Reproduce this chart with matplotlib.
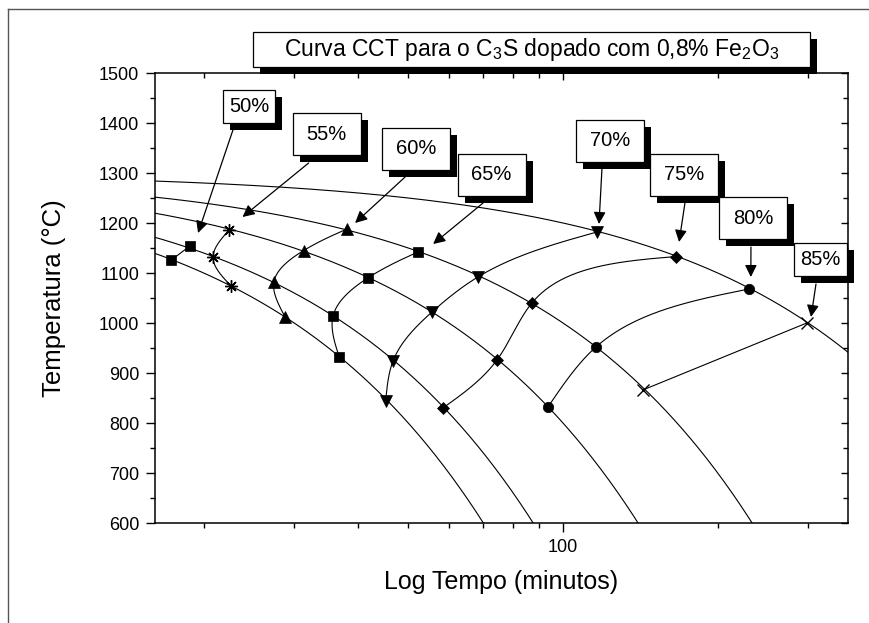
import numpy as np
import matplotlib
matplotlib.use('Agg')
import matplotlib.pyplot as plt
from matplotlib.patches import Rectangle
from matplotlib.lines import Line2D
from matplotlib.transforms import IdentityTransform
from matplotlib.ticker import FixedLocator, MultipleLocator, NullFormatter, FuncFormatter, LogLocator

plt.rcParams['font.family'] = ['Liberation Sans', 'DejaVu Sans']
plt.rcParams['mathtext.fontset'] = 'custom'
plt.rcParams['mathtext.rm'] = 'Liberation Sans'
plt.rcParams['mathtext.it'] = 'Liberation Sans:italic'

# ---------------- data ----------------
start_temp = 1300                     # °C at t = 0
cooling_rates = [1, 3, 5, 8, 10]      # °C/min

labels = ['50%', '55%', '60%', '65%', '70%', '75%', '80%', '85%']

t50 = [17.3, 18.8];                         T50 = [1126, 1154]
t55 = [22.4, 20.85, 22.6];                  T55 = [1186, 1132, 1074]
t60 = [38.0, 31.3, 27.4, 28.8];             T60 = [1188, 1145, 1083, 1012]
t65 = [52.2, 41.7, 35.7, 36.7];             T65 = [1142, 1090, 1014, 932]
t70 = [116.4, 68.3, 55.6, 46.7, 45.2];      T70 = [1182, 1092, 1022, 924, 844]
t75 = [165.9, 87.0, 74.4, 58.4];            T75 = [1133, 1040, 926, 830]
t80 = [230.0, 115.9, 93.5];                 T80 = [1068, 952, 832]
t85 = [298.0, 143.0];                       T85 = [1000, 866]

times = [t50, t55, t60, t65, t70, t75, t80, t85]
temps = [T50, T55, T60, T65, T70, T75, T80, T85]

# label boxes (centre), arrow tails and arrow tips, in data units
label_t = [24.5, 34.7, 51.8, 72.6, 123.7, 172.0, 234.2, 316.9]
label_T = [1434, 1378, 1348, 1297, 1365, 1297, 1210, 1127]
tail_t = [22.8, 32.0, 49.3, 69.9, 119.1, 172.7, 232.1, 310.6]
tail_T = [1386, 1320, 1292, 1240, 1310, 1240, 1152, 1078]
tip_t = [19.5, 23.8, 39.4, 55.9, 117.5, 168.2, 232.0, 303.8]
tip_T = [1180, 1212, 1200, 1158, 1198, 1162, 1092, 1012]

title = r'Curva CCT para o C$_3$S dopado com 0,8% Fe$_2$O$_3$'

# ---------------- styles ----------------
markers = ['s', (8, 2, 0), '^', 's', 'v', 'D', 'o', 'x']
msizes = [7, 9, 8, 7, 8, 6.5, 7.5, 9]
box_sizes = [(52, 33), (68, 42), (68, 42), (68, 42), (68, 42), (68, 42), (68, 42), (53, 33)]

W, H = 870, 623
fig = plt.figure(figsize=(W / 100, H / 100), dpi=100)
L, R, TOP, BOT = 155, 848, 73, 523
pos = [L / W, 1 - BOT / H, (R - L) / W, (BOT - TOP) / H]
ax = fig.add_axes(pos)

XMIN, XMAX = 16.08, 358.5
YMIN, YMAX = 600, 1500


def natural_spline_1d(s, y, snew):
    n = len(s)
    h = np.diff(s)
    A = np.zeros((n, n))
    b = np.zeros(n)
    A[0, 0] = 1.0
    A[-1, -1] = 1.0
    for i in range(1, n - 1):
        A[i, i - 1] = h[i - 1]
        A[i, i] = 2 * (h[i - 1] + h[i])
        A[i, i + 1] = h[i]
        b[i] = 6 * ((y[i + 1] - y[i]) / h[i] - (y[i] - y[i - 1]) / h[i - 1])
    M = np.linalg.solve(A, b)
    out = np.empty_like(snew)
    idx = np.clip(np.searchsorted(s, snew) - 1, 0, n - 2)
    for k, (sv, i) in enumerate(zip(snew, idx)):
        hi = h[i]
        a = (s[i + 1] - sv) / hi
        c = (sv - s[i]) / hi
        out[k] = (a * y[i] + c * y[i + 1]
                  + ((a ** 3 - a) * M[i] + (c ** 3 - c) * M[i + 1]) * hi ** 2 / 6)
    return out


def smooth_curve(ts, Ts, n=300):
    X = np.log10(ts) * 514.0
    Y = np.asarray(Ts, float) * 0.5
    if len(X) == 2:
        s = np.linspace(0, 1, n)
        return 10 ** ((X[0] + (X[1] - X[0]) * s) / 514.0), (Y[0] + (Y[1] - Y[0]) * s) / 0.5
    d = np.hypot(np.diff(X), np.diff(Y))
    s = np.concatenate([[0], np.cumsum(d)])
    snew = np.linspace(0, s[-1], n)
    xs = natural_spline_1d(s, X, snew)
    ys = natural_spline_1d(s, Y, snew)
    return 10 ** (xs / 514.0), ys / 0.5


# cooling curves
for r in cooling_rates:
    tt = np.geomspace(XMIN * 0.98, XMAX * 1.02, 600)
    TT = start_temp - r * tt
    ax.plot(tt, TT, color='black', lw=0.8, zorder=2)

# transformation curves with markers
for i in range(len(labels)):
    cx, cy = smooth_curve(times[i], temps[i])
    ax.plot(cx, cy, color='black', lw=0.8, zorder=2)
    if labels[i] in ('55%', '85%'):
        ax.plot(times[i], temps[i], linestyle='none', marker=markers[i], ms=msizes[i],
                mec='black', mfc='none', mew=1.0, zorder=3)
    else:
        ax.plot(times[i], temps[i], linestyle='none', marker=markers[i], ms=msizes[i],
                mec='black', mfc='black', mew=0.5, zorder=3)

ax.set_xscale('log')
ax.set_xlim(XMIN, XMAX)
ax.set_ylim(YMIN, YMAX)
ax.xaxis.set_major_locator(FixedLocator([100]))
ax.xaxis.set_major_formatter(FuncFormatter(lambda v, p: '%d' % v))
ax.xaxis.set_minor_locator(LogLocator(base=10, subs=np.arange(2, 10), numticks=20))
ax.xaxis.set_minor_formatter(NullFormatter())
ax.yaxis.set_major_locator(MultipleLocator(100))
ax.yaxis.set_minor_locator(MultipleLocator(50))
ax.tick_params(which='both', direction='out', top=False, right=False, labelsize=13, width=1.0, pad=5)
ax.tick_params(which='major', length=6.5)
ax.tick_params(which='minor', length=3.8)
for sp in ax.spines.values():
    sp.set_linewidth(1.1)

ax.set_xlabel('Log Tempo (minutos)', fontsize=18)
ax.set_ylabel('Temperatura (°C)', fontsize=18.5)
ax.xaxis.set_label_coords(0.5, -0.105)
ax.yaxis.set_label_coords(-0.128, 0.5)

# mirrored inward ticks on top and right
ax2 = fig.add_axes(pos, frameon=False)
ax2.set_xscale('log')
ax2.set_xlim(XMIN, XMAX)
ax2.set_ylim(YMIN, YMAX)
ax2.xaxis.set_major_locator(FixedLocator([100]))
ax2.xaxis.set_minor_locator(LogLocator(base=10, subs=np.arange(2, 10), numticks=20))
ax2.yaxis.set_major_locator(MultipleLocator(100))
ax2.yaxis.set_minor_locator(MultipleLocator(50))
ax2.tick_params(which='both', direction='in', top=True, right=True, bottom=False, left=False,
                labeltop=False, labelright=False, labelbottom=False, labelleft=False, width=1.0)
ax2.tick_params(which='major', length=5)
ax2.tick_params(which='minor', length=3.5)
ax2.patch.set_visible(False)

# ---------------- annotations ----------------
for i in range(len(labels)):
    ax.annotate('', xy=(tip_t[i], tip_T[i]), xytext=(tail_t[i], tail_T[i]),
                arrowprops=dict(arrowstyle='-|>', color='black', lw=0.9,
                                mutation_scale=18, shrinkA=0, shrinkB=0),
                zorder=6)

ident = IdentityTransform()
SH = 7
for i in range(len(labels)):
    cx, cy = ax.transData.transform((label_t[i], label_T[i]))
    w, h = box_sizes[i]
    fig.add_artist(Rectangle((cx - w / 2 + SH, cy - h / 2 - SH), w, h, transform=ident,
                             fc='black', ec='black', lw=0, zorder=10))
    fig.add_artist(Rectangle((cx - w / 2, cy - h / 2), w, h, transform=ident,
                             fc='white', ec='black', lw=0.9, zorder=11))
    fig.text(cx, cy, labels[i], transform=ident, ha='center', va='center',
             fontsize=14.5, zorder=12)

# title box (pixel layout, y measured from top)
def fx(x):
    return x / W

def fy(y):
    return 1 - y / H

bx0, by0, bx1, by1 = 253, 32, 810, 67
fig.add_artist(Rectangle((fx(bx0 + SH), fy(by1 + SH)), fx(bx1 - bx0), (by1 - by0) / H,
                         transform=fig.transFigure, fc='black', lw=0, zorder=10))
fig.add_artist(Rectangle((fx(bx0), fy(by1)), fx(bx1 - bx0), (by1 - by0) / H,
                         transform=fig.transFigure, fc='white', ec='black', lw=0.9, zorder=11))
fig.text(fx((bx0 + bx1) / 2), fy((by0 + by1) / 2), title, ha='center', va='center',
         fontsize=16.5, zorder=12)

# outer frame
fig.add_artist(Line2D([fx(8), fx(8)], [fy(9), 0], transform=fig.transFigure, color='#555555', lw=1.0))
fig.add_artist(Line2D([fx(8), 1], [fy(9), fy(9)], transform=fig.transFigure, color='#555555', lw=1.0))

fig.savefig('out.png', dpi=100)
